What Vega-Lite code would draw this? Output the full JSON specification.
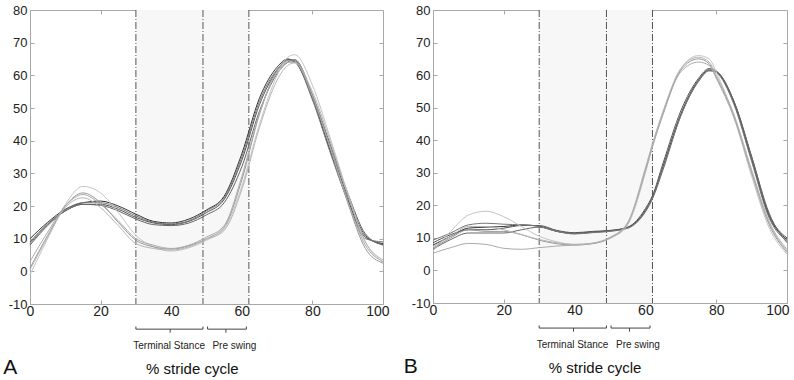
{
  "$schema": "https://vega.github.io/schema/vega-lite/v6.json",
  "padding": {"left": 2, "top": 3, "right": 5, "bottom": 2},
  "bounds": "flush",
  "spacing": 50,
  "background": "white",
  "config": {
    "view": {"stroke": "#a8a8a8", "strokeWidth": 1},
    "font": "Liberation Sans",
    "axis": {"domain": false, "grid": false, "tickColor": "#a8a8a8", "tickSize": -4, "labelFont": "Liberation Sans", "labelFontSize": 13, "labelColor": "#222", "title": null, "labelExpr": "datum.value + ''"}
  },
  "datasets": {
    "phases": [{"start": 30, "end": 62}],
    "events": [{"x": 30}, {"x": 49}, {"x": 62}],
    "braces": [
      {"x": 30, "x2": 30, "y": -16.9, "y2": -17.7},
      {"x": 30, "x2": 49, "y": -17.7, "y2": -17.7},
      {"x": 49, "x2": 49, "y": -16.9, "y2": -17.7},
      {"x": 39.7, "x2": 39.7, "y": -17.7, "y2": -18.8},
      {"x": 50.3, "x2": 50.3, "y": -16.9, "y2": -17.7},
      {"x": 50.3, "x2": 61.3, "y": -17.7, "y2": -17.7},
      {"x": 61.3, "x2": 61.3, "y": -16.9, "y2": -17.7},
      {"x": 55.5, "x2": 55.5, "y": -17.7, "y2": -18.8}
    ],
    "phaseLabels": [
      {"x": 39.4, "y": -23.7, "label": "Terminal Stance"},
      {"x": 57.9, "y": -23.7, "label": "Pre swing"}
    ],
    "A": [
      {"id": "d1", "x": 0, "y": 10}, {"id": "d1", "x": 5, "y": 15}, {"id": "d1", "x": 10, "y": 19}, {"id": "d1", "x": 15, "y": 21}, {"id": "d1", "x": 20, "y": 21.5}, {"id": "d1", "x": 25, "y": 20}, {"id": "d1", "x": 30, "y": 17.5}, {"id": "d1", "x": 35, "y": 15.3}, {"id": "d1", "x": 40, "y": 14.8}, {"id": "d1", "x": 45, "y": 16}, {"id": "d1", "x": 50, "y": 18.8}, {"id": "d1", "x": 55, "y": 23}, {"id": "d1", "x": 60, "y": 36}, {"id": "d1", "x": 65, "y": 53}, {"id": "d1", "x": 70, "y": 62.5}, {"id": "d1", "x": 73, "y": 65}, {"id": "d1", "x": 75, "y": 64.2}, {"id": "d1", "x": 80, "y": 53}, {"id": "d1", "x": 85, "y": 37}, {"id": "d1", "x": 90, "y": 22}, {"id": "d1", "x": 95, "y": 10.5}, {"id": "d1", "x": 100, "y": 8.5},
      {"id": "d2", "x": 0, "y": 9}, {"id": "d2", "x": 5, "y": 14.5}, {"id": "d2", "x": 10, "y": 18.5}, {"id": "d2", "x": 15, "y": 20.5}, {"id": "d2", "x": 20, "y": 20.5}, {"id": "d2", "x": 25, "y": 19}, {"id": "d2", "x": 30, "y": 16.5}, {"id": "d2", "x": 35, "y": 14.8}, {"id": "d2", "x": 40, "y": 14.3}, {"id": "d2", "x": 45, "y": 15.3}, {"id": "d2", "x": 50, "y": 18}, {"id": "d2", "x": 55, "y": 22}, {"id": "d2", "x": 60, "y": 34}, {"id": "d2", "x": 65, "y": 51}, {"id": "d2", "x": 70, "y": 61.5}, {"id": "d2", "x": 73, "y": 64.8}, {"id": "d2", "x": 75, "y": 64.5}, {"id": "d2", "x": 80, "y": 53.5}, {"id": "d2", "x": 85, "y": 38}, {"id": "d2", "x": 90, "y": 23}, {"id": "d2", "x": 95, "y": 11}, {"id": "d2", "x": 100, "y": 8.2},
      {"id": "d3", "x": 0, "y": 8}, {"id": "d3", "x": 5, "y": 14}, {"id": "d3", "x": 10, "y": 18.5}, {"id": "d3", "x": 15, "y": 20.5}, {"id": "d3", "x": 20, "y": 20.2}, {"id": "d3", "x": 25, "y": 18.5}, {"id": "d3", "x": 30, "y": 16}, {"id": "d3", "x": 35, "y": 14.3}, {"id": "d3", "x": 40, "y": 14}, {"id": "d3", "x": 45, "y": 14.8}, {"id": "d3", "x": 50, "y": 17.3}, {"id": "d3", "x": 55, "y": 21}, {"id": "d3", "x": 60, "y": 32}, {"id": "d3", "x": 65, "y": 49}, {"id": "d3", "x": 70, "y": 60.5}, {"id": "d3", "x": 73, "y": 64}, {"id": "d3", "x": 75, "y": 64.8}, {"id": "d3", "x": 80, "y": 54}, {"id": "d3", "x": 85, "y": 39}, {"id": "d3", "x": 90, "y": 24}, {"id": "d3", "x": 95, "y": 11.5}, {"id": "d3", "x": 100, "y": 8},
      {"id": "d4", "x": 0, "y": 8.5}, {"id": "d4", "x": 5, "y": 14.3}, {"id": "d4", "x": 10, "y": 18.8}, {"id": "d4", "x": 15, "y": 21}, {"id": "d4", "x": 20, "y": 21}, {"id": "d4", "x": 25, "y": 19.5}, {"id": "d4", "x": 30, "y": 17}, {"id": "d4", "x": 35, "y": 15}, {"id": "d4", "x": 40, "y": 14.5}, {"id": "d4", "x": 45, "y": 15.5}, {"id": "d4", "x": 50, "y": 18.5}, {"id": "d4", "x": 55, "y": 22.5}, {"id": "d4", "x": 60, "y": 35}, {"id": "d4", "x": 65, "y": 52}, {"id": "d4", "x": 70, "y": 61.8}, {"id": "d4", "x": 73, "y": 64.5}, {"id": "d4", "x": 75, "y": 64}, {"id": "d4", "x": 80, "y": 52.5}, {"id": "d4", "x": 85, "y": 36.5}, {"id": "d4", "x": 90, "y": 21.5}, {"id": "d4", "x": 95, "y": 10}, {"id": "d4", "x": 100, "y": 9},
      {"id": "l1", "x": 0, "y": -1}, {"id": "l1", "x": 5, "y": 10}, {"id": "l1", "x": 10, "y": 20.5}, {"id": "l1", "x": 15, "y": 26}, {"id": "l1", "x": 20, "y": 24}, {"id": "l1", "x": 25, "y": 18}, {"id": "l1", "x": 30, "y": 11}, {"id": "l1", "x": 35, "y": 7.5}, {"id": "l1", "x": 40, "y": 6.2}, {"id": "l1", "x": 45, "y": 7.2}, {"id": "l1", "x": 50, "y": 9.5}, {"id": "l1", "x": 55, "y": 13}, {"id": "l1", "x": 60, "y": 26}, {"id": "l1", "x": 65, "y": 45}, {"id": "l1", "x": 70, "y": 60}, {"id": "l1", "x": 73, "y": 65.5}, {"id": "l1", "x": 75, "y": 66.3}, {"id": "l1", "x": 80, "y": 57}, {"id": "l1", "x": 85, "y": 41}, {"id": "l1", "x": 90, "y": 24}, {"id": "l1", "x": 95, "y": 9}, {"id": "l1", "x": 100, "y": 2.8},
      {"id": "l2", "x": 0, "y": 1}, {"id": "l2", "x": 5, "y": 11}, {"id": "l2", "x": 10, "y": 20}, {"id": "l2", "x": 15, "y": 24}, {"id": "l2", "x": 20, "y": 21}, {"id": "l2", "x": 25, "y": 15}, {"id": "l2", "x": 30, "y": 9.5}, {"id": "l2", "x": 35, "y": 7.5}, {"id": "l2", "x": 40, "y": 6.8}, {"id": "l2", "x": 45, "y": 7.8}, {"id": "l2", "x": 50, "y": 10}, {"id": "l2", "x": 55, "y": 13.5}, {"id": "l2", "x": 60, "y": 28}, {"id": "l2", "x": 65, "y": 48}, {"id": "l2", "x": 70, "y": 61.5}, {"id": "l2", "x": 73, "y": 64.5}, {"id": "l2", "x": 75, "y": 64.7}, {"id": "l2", "x": 80, "y": 54}, {"id": "l2", "x": 85, "y": 38}, {"id": "l2", "x": 90, "y": 21}, {"id": "l2", "x": 95, "y": 7}, {"id": "l2", "x": 100, "y": 2.5},
      {"id": "l3", "x": 0, "y": 3}, {"id": "l3", "x": 5, "y": 12}, {"id": "l3", "x": 10, "y": 20}, {"id": "l3", "x": 15, "y": 23.5}, {"id": "l3", "x": 20, "y": 20.5}, {"id": "l3", "x": 25, "y": 15.5}, {"id": "l3", "x": 30, "y": 10}, {"id": "l3", "x": 35, "y": 8}, {"id": "l3", "x": 40, "y": 7}, {"id": "l3", "x": 45, "y": 8}, {"id": "l3", "x": 50, "y": 10.5}, {"id": "l3", "x": 55, "y": 14}, {"id": "l3", "x": 60, "y": 29}, {"id": "l3", "x": 65, "y": 48.5}, {"id": "l3", "x": 70, "y": 61}, {"id": "l3", "x": 73, "y": 64}, {"id": "l3", "x": 75, "y": 64}, {"id": "l3", "x": 80, "y": 53.5}, {"id": "l3", "x": 85, "y": 38}, {"id": "l3", "x": 90, "y": 21.5}, {"id": "l3", "x": 95, "y": 8}, {"id": "l3", "x": 100, "y": 3},
      {"id": "l4", "x": 0, "y": 0.5}, {"id": "l4", "x": 5, "y": 10.5}, {"id": "l4", "x": 10, "y": 19.5}, {"id": "l4", "x": 15, "y": 22.5}, {"id": "l4", "x": 20, "y": 19.5}, {"id": "l4", "x": 25, "y": 14}, {"id": "l4", "x": 30, "y": 8.5}, {"id": "l4", "x": 35, "y": 7}, {"id": "l4", "x": 40, "y": 6.5}, {"id": "l4", "x": 45, "y": 7.5}, {"id": "l4", "x": 50, "y": 9.8}, {"id": "l4", "x": 55, "y": 12.5}, {"id": "l4", "x": 60, "y": 25}, {"id": "l4", "x": 65, "y": 44}, {"id": "l4", "x": 70, "y": 58.5}, {"id": "l4", "x": 73, "y": 63}, {"id": "l4", "x": 75, "y": 63.8}, {"id": "l4", "x": 80, "y": 55}, {"id": "l4", "x": 85, "y": 40}, {"id": "l4", "x": 90, "y": 23.5}, {"id": "l4", "x": 95, "y": 9}, {"id": "l4", "x": 100, "y": 3.5}
    ],
    "B": [
      {"id": "d1", "x": 0, "y": 7.8}, {"id": "d1", "x": 5, "y": 10.5}, {"id": "d1", "x": 10, "y": 13}, {"id": "d1", "x": 15, "y": 13.3}, {"id": "d1", "x": 20, "y": 13.5}, {"id": "d1", "x": 25, "y": 14}, {"id": "d1", "x": 30, "y": 13.6}, {"id": "d1", "x": 35, "y": 12}, {"id": "d1", "x": 40, "y": 11.4}, {"id": "d1", "x": 45, "y": 11.8}, {"id": "d1", "x": 50, "y": 12.2}, {"id": "d1", "x": 55, "y": 13.2}, {"id": "d1", "x": 60, "y": 18.5}, {"id": "d1", "x": 62, "y": 22.5}, {"id": "d1", "x": 65, "y": 32}, {"id": "d1", "x": 70, "y": 48}, {"id": "d1", "x": 75, "y": 58.5}, {"id": "d1", "x": 78, "y": 61.6}, {"id": "d1", "x": 80, "y": 61}, {"id": "d1", "x": 85, "y": 51.5}, {"id": "d1", "x": 90, "y": 34}, {"id": "d1", "x": 95, "y": 16.5}, {"id": "d1", "x": 100, "y": 9.5},
      {"id": "d2", "x": 0, "y": 8.5}, {"id": "d2", "x": 5, "y": 11}, {"id": "d2", "x": 10, "y": 12.5}, {"id": "d2", "x": 15, "y": 12.5}, {"id": "d2", "x": 20, "y": 13}, {"id": "d2", "x": 25, "y": 13.8}, {"id": "d2", "x": 30, "y": 13.8}, {"id": "d2", "x": 35, "y": 12.3}, {"id": "d2", "x": 40, "y": 11.6}, {"id": "d2", "x": 45, "y": 12}, {"id": "d2", "x": 50, "y": 12.3}, {"id": "d2", "x": 55, "y": 13.3}, {"id": "d2", "x": 60, "y": 19}, {"id": "d2", "x": 62, "y": 23}, {"id": "d2", "x": 65, "y": 33}, {"id": "d2", "x": 70, "y": 49}, {"id": "d2", "x": 75, "y": 59}, {"id": "d2", "x": 78, "y": 62}, {"id": "d2", "x": 80, "y": 61.3}, {"id": "d2", "x": 85, "y": 52}, {"id": "d2", "x": 90, "y": 35}, {"id": "d2", "x": 95, "y": 17}, {"id": "d2", "x": 100, "y": 10},
      {"id": "d3", "x": 0, "y": 6.5}, {"id": "d3", "x": 5, "y": 9.5}, {"id": "d3", "x": 10, "y": 11.5}, {"id": "d3", "x": 15, "y": 11.5}, {"id": "d3", "x": 20, "y": 11.5}, {"id": "d3", "x": 25, "y": 12.5}, {"id": "d3", "x": 30, "y": 13.3}, {"id": "d3", "x": 35, "y": 12}, {"id": "d3", "x": 40, "y": 11.3}, {"id": "d3", "x": 45, "y": 11.7}, {"id": "d3", "x": 50, "y": 12.1}, {"id": "d3", "x": 55, "y": 13}, {"id": "d3", "x": 60, "y": 18}, {"id": "d3", "x": 62, "y": 22}, {"id": "d3", "x": 65, "y": 31}, {"id": "d3", "x": 70, "y": 47.5}, {"id": "d3", "x": 75, "y": 58}, {"id": "d3", "x": 78, "y": 61.3}, {"id": "d3", "x": 80, "y": 61}, {"id": "d3", "x": 85, "y": 52}, {"id": "d3", "x": 90, "y": 35}, {"id": "d3", "x": 95, "y": 17.5}, {"id": "d3", "x": 100, "y": 8.5},
      {"id": "d4", "x": 0, "y": 9.3}, {"id": "d4", "x": 5, "y": 11.5}, {"id": "d4", "x": 10, "y": 14}, {"id": "d4", "x": 15, "y": 14.5}, {"id": "d4", "x": 20, "y": 14.2}, {"id": "d4", "x": 25, "y": 14}, {"id": "d4", "x": 30, "y": 13.5}, {"id": "d4", "x": 35, "y": 12}, {"id": "d4", "x": 40, "y": 11.2}, {"id": "d4", "x": 45, "y": 11.6}, {"id": "d4", "x": 50, "y": 12}, {"id": "d4", "x": 55, "y": 13}, {"id": "d4", "x": 60, "y": 18.3}, {"id": "d4", "x": 62, "y": 22.3}, {"id": "d4", "x": 65, "y": 31.5}, {"id": "d4", "x": 70, "y": 47.5}, {"id": "d4", "x": 75, "y": 58.3}, {"id": "d4", "x": 78, "y": 61.5}, {"id": "d4", "x": 80, "y": 60.8}, {"id": "d4", "x": 85, "y": 51}, {"id": "d4", "x": 90, "y": 33.5}, {"id": "d4", "x": 95, "y": 16}, {"id": "d4", "x": 100, "y": 9},
      {"id": "l1", "x": 0, "y": 6}, {"id": "l1", "x": 5, "y": 12}, {"id": "l1", "x": 10, "y": 17}, {"id": "l1", "x": 15, "y": 18.2}, {"id": "l1", "x": 20, "y": 16.5}, {"id": "l1", "x": 25, "y": 13.5}, {"id": "l1", "x": 30, "y": 10.5}, {"id": "l1", "x": 35, "y": 8.8}, {"id": "l1", "x": 40, "y": 8}, {"id": "l1", "x": 45, "y": 8.3}, {"id": "l1", "x": 50, "y": 9.8}, {"id": "l1", "x": 55, "y": 14}, {"id": "l1", "x": 60, "y": 30}, {"id": "l1", "x": 62, "y": 38}, {"id": "l1", "x": 65, "y": 48}, {"id": "l1", "x": 70, "y": 62}, {"id": "l1", "x": 75, "y": 66}, {"id": "l1", "x": 78, "y": 65}, {"id": "l1", "x": 80, "y": 61}, {"id": "l1", "x": 85, "y": 47}, {"id": "l1", "x": 90, "y": 29}, {"id": "l1", "x": 95, "y": 13}, {"id": "l1", "x": 100, "y": 5},
      {"id": "l2", "x": 0, "y": 6.8}, {"id": "l2", "x": 5, "y": 10}, {"id": "l2", "x": 10, "y": 12.5}, {"id": "l2", "x": 15, "y": 12}, {"id": "l2", "x": 20, "y": 12}, {"id": "l2", "x": 25, "y": 11}, {"id": "l2", "x": 30, "y": 9.3}, {"id": "l2", "x": 35, "y": 8.2}, {"id": "l2", "x": 40, "y": 7.8}, {"id": "l2", "x": 45, "y": 8.2}, {"id": "l2", "x": 50, "y": 10}, {"id": "l2", "x": 55, "y": 14.5}, {"id": "l2", "x": 60, "y": 31}, {"id": "l2", "x": 62, "y": 38.5}, {"id": "l2", "x": 65, "y": 48.5}, {"id": "l2", "x": 70, "y": 61.5}, {"id": "l2", "x": 75, "y": 65}, {"id": "l2", "x": 78, "y": 63.5}, {"id": "l2", "x": 80, "y": 59.5}, {"id": "l2", "x": 85, "y": 47.5}, {"id": "l2", "x": 90, "y": 30}, {"id": "l2", "x": 95, "y": 14}, {"id": "l2", "x": 100, "y": 5.5},
      {"id": "l3", "x": 0, "y": 5.3}, {"id": "l3", "x": 5, "y": 7}, {"id": "l3", "x": 10, "y": 8.3}, {"id": "l3", "x": 15, "y": 8}, {"id": "l3", "x": 20, "y": 6.8}, {"id": "l3", "x": 25, "y": 6.5}, {"id": "l3", "x": 30, "y": 7}, {"id": "l3", "x": 35, "y": 7.5}, {"id": "l3", "x": 40, "y": 7.8}, {"id": "l3", "x": 45, "y": 8.3}, {"id": "l3", "x": 50, "y": 10}, {"id": "l3", "x": 55, "y": 14.5}, {"id": "l3", "x": 60, "y": 30.5}, {"id": "l3", "x": 62, "y": 38}, {"id": "l3", "x": 65, "y": 48}, {"id": "l3", "x": 70, "y": 61}, {"id": "l3", "x": 75, "y": 64}, {"id": "l3", "x": 78, "y": 63}, {"id": "l3", "x": 80, "y": 59}, {"id": "l3", "x": 85, "y": 47}, {"id": "l3", "x": 90, "y": 30.5}, {"id": "l3", "x": 95, "y": 14.5}, {"id": "l3", "x": 100, "y": 6},
      {"id": "l4", "x": 0, "y": 7.2}, {"id": "l4", "x": 5, "y": 10.5}, {"id": "l4", "x": 10, "y": 13.5}, {"id": "l4", "x": 15, "y": 13.5}, {"id": "l4", "x": 20, "y": 12.5}, {"id": "l4", "x": 25, "y": 11}, {"id": "l4", "x": 30, "y": 9.5}, {"id": "l4", "x": 35, "y": 8.5}, {"id": "l4", "x": 40, "y": 8}, {"id": "l4", "x": 45, "y": 8.4}, {"id": "l4", "x": 50, "y": 10.2}, {"id": "l4", "x": 55, "y": 14.8}, {"id": "l4", "x": 60, "y": 31.5}, {"id": "l4", "x": 62, "y": 39}, {"id": "l4", "x": 65, "y": 49}, {"id": "l4", "x": 70, "y": 62}, {"id": "l4", "x": 75, "y": 65.5}, {"id": "l4", "x": 78, "y": 64}, {"id": "l4", "x": 80, "y": 60}, {"id": "l4", "x": 85, "y": 48}, {"id": "l4", "x": 90, "y": 31}, {"id": "l4", "x": 95, "y": 15}, {"id": "l4", "x": 100, "y": 6.5}
    ],
    "tagA": [{"x": -5.6, "y": -31.4, "label": "A", "kind": "tag"}, {"x": 46, "y": -31.4, "label": "% stride cycle", "kind": "title"}],
    "tagB": [{"x": -6.3, "y": -31.4, "label": "B", "kind": "tag"}, {"x": 45.8, "y": -31.4, "label": "% stride cycle", "kind": "title"}]
  },
  "hconcat": [
    {
      "width": 353, "height": 294,
      "resolve": {"axis": {"x": "independent", "y": "independent"}},
      "layer": [
        {
          "data": {"name": "phases"},
          "mark": {"type": "rect", "fill": "#f7f7f7"},
          "encoding": {
            "x": {"field": "start", "type": "quantitative", "scale": {"domain": [0, 100], "nice": false, "zero": false}, "axis": {"orient": "top", "labels": false, "values": [20, 40, 60, 80]}},
            "x2": {"field": "end"},
            "y": {"datum": -10, "type": "quantitative", "scale": {"domain": [-10, 80], "nice": false, "zero": false}, "axis": {"orient": "right", "labels": false, "values": [0, 10, 20, 30, 40, 50, 60, 70]}},
            "y2": {"datum": 80}
          }
        },
        {
          "data": {"name": "events"},
          "mark": {"type": "rule", "stroke": "#555", "strokeWidth": 1, "strokeDash": [7, 2, 1, 2]},
          "encoding": {"x": {"field": "x", "type": "quantitative", "scale": {"domain": [0, 100], "nice": false, "zero": false}, "axis": null}}
        },
        {
          "data": {"name": "A"},
          "mark": {"type": "line", "interpolate": "monotone", "strokeWidth": 1},
          "encoding": {
            "x": {"field": "x", "type": "quantitative", "scale": {"domain": [0, 100], "nice": false, "zero": false}, "axis": {"orient": "bottom", "values": [0, 20, 40, 60, 80, 100], "labelPadding": 4, "labelFontSize": 14, "labelAlign": {"condition": {"test": "datum.value === 100", "value": "right"}, "value": "center"}, "labelOffset": {"condition": {"test": "datum.value === 100", "value": 6}, "value": 0}}},
            "y": {"field": "y", "type": "quantitative", "scale": {"domain": [-10, 80], "nice": false, "zero": false}, "axis": {"orient": "left", "values": [-10, 0, 10, 20, 30, 40, 50, 60, 70, 80], "labelPadding": 7}},
            "color": {"field": "id", "type": "nominal", "legend": null, "scale": {"domain": ["d1", "d2", "d3", "d4", "l1", "l2", "l3", "l4"], "range": ["#333333", "#555555", "#666666", "#777777", "#c4c4c4", "#999999", "#aaaaaa", "#b5b5b5"]}}
          }
        },
        {
          "data": {"name": "braces"},
          "mark": {"type": "rule", "stroke": "#444", "strokeWidth": 1},
          "encoding": {
            "x": {"field": "x", "type": "quantitative", "scale": {"domain": [0, 100], "nice": false, "zero": false}, "axis": null},
            "x2": {"field": "x2"},
            "y": {"field": "y", "type": "quantitative", "scale": {"domain": [-10, 80], "nice": false, "zero": false}, "axis": null},
            "y2": {"field": "y2"}
          }
        },
        {
          "data": {"name": "phaseLabels"},
          "mark": {"type": "text", "font": "Liberation Sans", "fontSize": 10, "color": "#222", "baseline": "alphabetic"},
          "encoding": {
            "x": {"field": "x", "type": "quantitative", "scale": {"domain": [0, 100], "nice": false, "zero": false}, "axis": null},
            "y": {"field": "y", "type": "quantitative", "scale": {"domain": [-10, 80], "nice": false, "zero": false}, "axis": null},
            "text": {"field": "label"}
          }
        },
        {
          "data": {"name": "tagA"},
          "mark": {"type": "text", "font": "Liberation Sans", "color": "#111", "baseline": "alphabetic"},
          "encoding": {
            "x": {"field": "x", "type": "quantitative", "scale": {"domain": [0, 100], "nice": false, "zero": false}, "axis": null},
            "y": {"field": "y", "type": "quantitative", "scale": {"domain": [-10, 80], "nice": false, "zero": false}, "axis": null},
            "text": {"field": "label"},
            "size": {"field": "kind", "type": "nominal", "legend": null, "scale": {"domain": ["tag", "title"], "range": [21, 15]}}
          }
        }
      ]
    },
    {
      "width": 354, "height": 293,
      "resolve": {"axis": {"x": "independent", "y": "independent"}},
      "layer": [
        {
          "data": {"name": "phases"},
          "mark": {"type": "rect", "fill": "#f7f7f7"},
          "encoding": {
            "x": {"field": "start", "type": "quantitative", "scale": {"domain": [0, 100], "nice": false, "zero": false}, "axis": {"orient": "top", "labels": false, "values": [20, 40, 60, 80]}},
            "x2": {"field": "end"},
            "y": {"datum": -10, "type": "quantitative", "scale": {"domain": [-10, 80], "nice": false, "zero": false}, "axis": {"orient": "right", "labels": false, "values": [0, 10, 20, 30, 40, 50, 60, 70]}},
            "y2": {"datum": 80}
          }
        },
        {
          "data": {"name": "events"},
          "mark": {"type": "rule", "stroke": "#555", "strokeWidth": 1, "strokeDash": [7, 2, 1, 2]},
          "encoding": {"x": {"field": "x", "type": "quantitative", "scale": {"domain": [0, 100], "nice": false, "zero": false}, "axis": null}}
        },
        {
          "data": {"name": "B"},
          "mark": {"type": "line", "interpolate": "monotone", "strokeWidth": 1},
          "encoding": {
            "x": {"field": "x", "type": "quantitative", "scale": {"domain": [0, 100], "nice": false, "zero": false}, "axis": {"orient": "bottom", "values": [0, 20, 40, 60, 80, 100], "labelPadding": 4, "labelFontSize": 14, "labelAlign": {"condition": {"test": "datum.value === 100", "value": "right"}, "value": "center"}, "labelOffset": {"condition": {"test": "datum.value === 100", "value": 2}, "value": 0}}},
            "y": {"field": "y", "type": "quantitative", "scale": {"domain": [-10, 80], "nice": false, "zero": false}, "axis": {"orient": "left", "values": [-10, 0, 10, 20, 30, 40, 50, 60, 70, 80], "labelPadding": 7}},
            "color": {"field": "id", "type": "nominal", "legend": null, "scale": {"domain": ["d1", "d2", "d3", "d4", "l1", "l2", "l3", "l4"], "range": ["#222222", "#444444", "#555555", "#333333", "#c4c4c4", "#8a8a8a", "#bbbbbb", "#a0a0a0"]}}
          }
        },
        {
          "data": {"name": "braces"},
          "mark": {"type": "rule", "stroke": "#444", "strokeWidth": 1},
          "encoding": {
            "x": {"field": "x", "type": "quantitative", "scale": {"domain": [0, 100], "nice": false, "zero": false}, "axis": null},
            "x2": {"field": "x2"},
            "y": {"field": "y", "type": "quantitative", "scale": {"domain": [-10, 80], "nice": false, "zero": false}, "axis": null},
            "y2": {"field": "y2"}
          }
        },
        {
          "data": {"name": "phaseLabels"},
          "mark": {"type": "text", "font": "Liberation Sans", "fontSize": 10, "color": "#222", "baseline": "alphabetic"},
          "encoding": {
            "x": {"field": "x", "type": "quantitative", "scale": {"domain": [0, 100], "nice": false, "zero": false}, "axis": null},
            "y": {"field": "y", "type": "quantitative", "scale": {"domain": [-10, 80], "nice": false, "zero": false}, "axis": null},
            "text": {"field": "label"}
          }
        },
        {
          "data": {"name": "tagB"},
          "mark": {"type": "text", "font": "Liberation Sans", "color": "#111", "baseline": "alphabetic"},
          "encoding": {
            "x": {"field": "x", "type": "quantitative", "scale": {"domain": [0, 100], "nice": false, "zero": false}, "axis": null},
            "y": {"field": "y", "type": "quantitative", "scale": {"domain": [-10, 80], "nice": false, "zero": false}, "axis": null},
            "text": {"field": "label"},
            "size": {"field": "kind", "type": "nominal", "legend": null, "scale": {"domain": ["tag", "title"], "range": [21, 15]}}
          }
        }
      ]
    }
  ]
}
